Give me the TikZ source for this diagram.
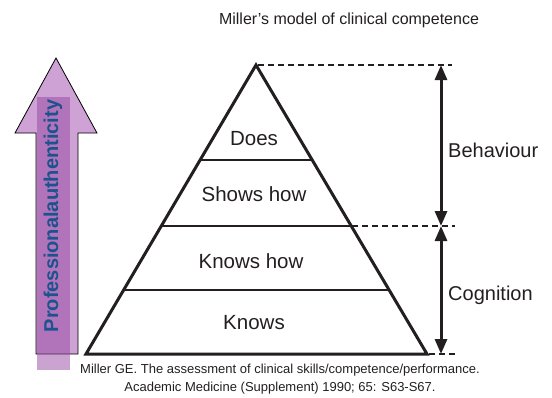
\documentclass[tikz,border=0pt]{standalone}
\usepackage{fontspec}
\setmainfont{Liberation Sans}
\usepackage{tikz}
\usetikzlibrary{arrows.meta,positioning}
\definecolor{inkgray}{RGB}{35,31,32}
\definecolor{mauvefill}{RGB}{206,162,212}
\definecolor{mauvestrip}{RGB}{150,72,162}
\definecolor{authblue}{RGB}{28,82,142}
\tikzset{
  levellabel/.style={font=\fontsize{20.5}{22}\selectfont, text=inkgray, inner sep=0pt},
  sidelabel/.style={font=\fontsize{20}{22}\selectfont, text=inkgray, inner sep=0pt, anchor=west},
  guide/.style={dashed, line width=1.4pt, dash pattern=on 6pt off 4pt, draw=inkgray},
  span/.style={{Triangle[length=15pt,width=12pt]}-{Triangle[length=15pt,width=12pt]},
    line width=3pt, draw=inkgray},
}

\begin{document}
\begin{tikzpicture}[x=1pt, y=-1pt]
  \useasboundingbox (0,0) rectangle (552,397);

  % Title
  \node[font=\fontsize{16}{18}\selectfont, text=inkgray] (title) at (349,20)
    {Miller’s model of clinical competence};

  % Professional authenticity arrow
  \draw[fill=mauvefill, draw=black, line width=0.8pt]
    (36,354) -- (36,133) -- (15,133) -- (56,58) -- (97,133) -- (78,133) -- (78,354) -- cycle;
  \fill[mauvestrip, opacity=0.5] (37,97) rectangle (70,370);
  \node[rotate=90, font=\fontsize{20}{22}\selectfont\bfseries, text=authblue,
        inner sep=0pt] (auth) at (53,216) {Professionalauthenticity};

  % Pyramid
  \draw[line width=3pt, draw=inkgray, line join=miter] (256,65) -- (427,354) -- (86,354) -- cycle;
  \draw[line width=1.5pt, draw=inkgray] (200,160) -- (312,160);
  \draw[line width=1.5pt, draw=inkgray] (161,226) -- (351,226);
  \draw[line width=1.5pt, draw=inkgray] (123,290) -- (389,290);

  \node[levellabel] (does) at (254,139) {Does};
  \node[levellabel] (shows) at (254,194) {Shows how};
  \node[levellabel] (knowshow) at (251,261) {Knows how};
  \node[levellabel] (knows) at (254,323) {Knows};

  % Dashed guides
  \coordinate (top) at (441,65);
  \coordinate (mid) at (441,226);
  \coordinate (bot) at (441,354);
  \draw[guide] (258,65) -- (452,65);
  \draw[guide] (352,226) -- (455,226);
  \draw[guide] (429,354) -- (455,354);

  % Behaviour / cognition spans
  \draw[span] (top) -- (mid);
  \draw[span] (mid) -- (bot);
  \node[sidelabel] (behaviour) at (448,150) {Behaviour};
  \node[sidelabel] (cognition) at (448,295) {Cognition};

  % Reference
  \node[font=\fontsize{13}{18}\selectfont, text=inkgray, align=center] (ref) at (280,379)
    {Miller GE. The assessment of clinical skills/competence/performance.\\
     Academic Medicine (Supplement) 1990; 65: S63-S67.};
\end{tikzpicture}
\end{document}
